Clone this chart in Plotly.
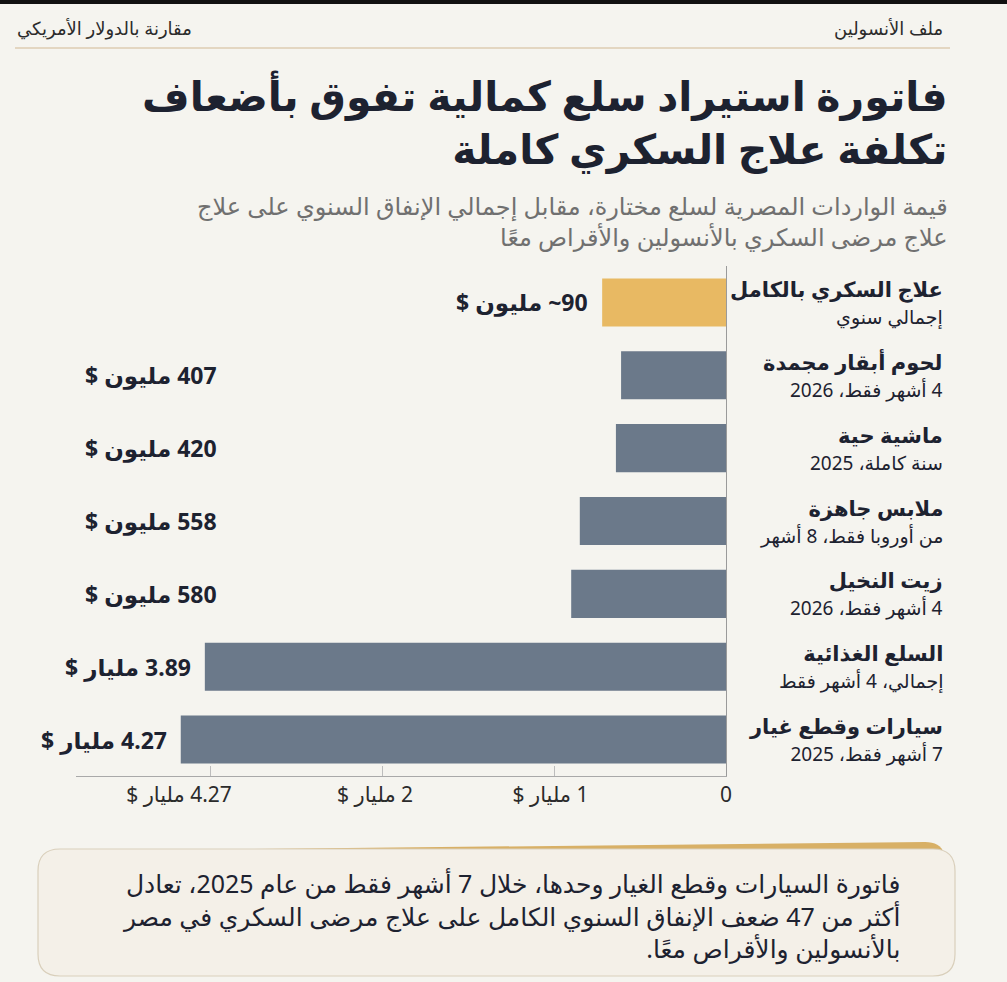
import plotly.graph_objects as go

categories = [
    "علاج السكري بالكامل",
    "لحوم أبقار مجمدة",
    "ماشية حية",
    "ملابس جاهزة",
    "زيت النخيل",
    "السلع الغذائية",
    "سيارات وقطع غيار",
]
notes = [
    "إجمالي سنوي",
    "4 أشهر فقط، 2026",
    "سنة كاملة، 2025",
    "من أوروبا فقط، 8 أشهر",
    "4 أشهر فقط، 2026",
    "إجمالي، 4 أشهر فقط",
    "7 أشهر فقط، 2025",
]
usd_bn = [0.09, 0.407, 0.42, 0.558, 0.58, 3.89, 4.27]
value_labels = [
    "90~ مليون $",
    "407 مليون $",
    "420 مليون $",
    "558 مليون $",
    "580 مليون $",
    "3.89 مليار $",
    "4.27 مليار $",
]
# bar lengths as drawn on the source's (not to scale) axis
bar_len = [0.72, 0.61, 0.64, 0.85, 0.90, 3.03, 3.17]
highlight = [True, False, False, False, False, False, False]

tick_vals = [0, 1.02, 2.04, 3.18]
tick_text = ["0", "1 مليار $", "2 مليار $", "4.27 مليار $"]
tick_marks = [1, 2, 3]

# ---- layout constants (pixels) ----
W_PX, H_PX = 1007, 982
L, R, T, B = 76, 726, 266, 776
FONT = "Noto Sans, DejaVu Sans, sans-serif"
DARK = "#1d2230"
BG = "#f5f4ef"
GOLD = "#e8b963"
SLATE = "#6b798a"


def px(x):
    return (x - L) / (R - L)


def py(y):
    return (B - y) / (B - T)


def rtl(s):
    return "<br>".join("\u202b" + part + "\u202c" for part in s.split("<br>"))


def rrect(x0, y0, x1, y1, r):
    pts = [
        ("M", x0 + r, y0), ("L", x1 - r, y0), ("Q", x1, y0), (None, x1, y0 + r),
        ("L", x1, y1 - r), ("Q", x1, y1), (None, x1 - r, y1),
        ("L", x0 + r, y1), ("Q", x0, y1), (None, x0, y1 - r),
        ("L", x0, y0 + r), ("Q", x0, y0), (None, x0 + r, y0),
    ]
    out = ""
    for cmd, x, y in pts:
        out += (cmd if cmd else " ") + f"{px(x):.5f},{py(y):.5f} "
    return out + "Z"


def pth(cmds):
    out = ""
    for cmd, x, y in cmds:
        out += (cmd if cmd else " ") + f"{px(x):.5f},{py(y):.5f} "
    return out + "Z"


fig = go.Figure()

fig.add_trace(go.Bar(
    y=categories,
    x=bar_len,
    orientation="h",
    marker=dict(color=[GOLD if h else SLATE for h in highlight], line=dict(width=0)),
    customdata=usd_bn,
    hovertemplate="%{y}: %{customdata} مليار $<extra></extra>",
))

annotations = []

# header row
annotations.append(dict(x=px(945), y=py(28), xref="paper", yref="paper",
                        text=rtl("ملف الأنسولين"), xanchor="right", yanchor="middle",
                        showarrow=False, font=dict(size=18, color="#2b2b2b", family=FONT)))
annotations.append(dict(x=px(15), y=py(28), xref="paper", yref="paper",
                        text=rtl("مقارنة بالدولار الأمريكي"), xanchor="left", yanchor="middle",
                        showarrow=False, font=dict(size=18, color="#2b2b2b", family=FONT)))

# title + subtitle
annotations.append(dict(x=px(950), y=py(122), xref="paper", yref="paper",
                        text=rtl("<b>فاتورة استيراد سلع كمالية تفوق بأضعاف</b><br><b>تكلفة علاج السكري كاملة</b>"),
                        xanchor="right", yanchor="middle", align="right", showarrow=False,
                        font=dict(size=41, color=DARK, family=FONT)))
annotations.append(dict(x=px(950), y=py(221), xref="paper", yref="paper",
                        text=rtl("قيمة الواردات المصرية لسلع مختارة، مقابل إجمالي الإنفاق السنوي على علاج<br>علاج مرضى السكري بالأنسولين والأقراص معًا"),
                        xanchor="right", yanchor="middle", align="right", showarrow=False,
                        font=dict(size=24, color="#707070", family=FONT)))

# category labels on the right
for cat, note in zip(categories, notes):
    annotations.append(dict(
        x=px(945), y=cat, xref="paper", yref="y",
        text=rtl(f"<b>{cat}</b><br><span style='font-size:19px'>{note}</span>"),
        xanchor="right", yanchor="middle", align="right", showarrow=False,
        font=dict(size=21, color=DARK, family=FONT),
    ))

# value labels
for cat, lab, ln, h in zip(categories, value_labels, bar_len, highlight):
    annotations.append(dict(
        x=ln if h else max(ln, 2.88), y=cat, xref="x", yref="y",
        text=rtl(f"<b>{lab}</b>"), xanchor="right", yanchor="middle", xshift=-12,
        showarrow=False, font=dict(size=23, color=DARK, family=FONT),
    ))

# callout text
annotations.append(dict(
    x=px(902), y=py(915), xref="paper", yref="paper",
    text=rtl("فاتورة السيارات وقطع الغيار وحدها، خلال 7 أشهر فقط من عام 2025، تعادل<br>"
             "أكثر من 47 ضعف الإنفاق السنوي الكامل على علاج مرضى السكري في مصر<br>"
             "بالأنسولين والأقراص معًا."),
    xanchor="right", yanchor="middle", align="right", showarrow=False,
    font=dict(size=25, color=DARK, family=FONT),
))

shapes = [
    # top dark strip
    dict(type="rect", xref="paper", yref="paper", x0=px(0), x1=px(W_PX), y0=py(0), y1=py(4),
         fillcolor="#111111", line=dict(width=0), layer="below"),
    # header divider
    dict(type="line", xref="paper", yref="paper", x0=px(15), x1=px(950), y0=py(48), y1=py(48),
         line=dict(color="#dccdb2", width=1.5)),
    # callout: thin gold wedge peeking above the card, then the cream card
    dict(type="path", xref="paper", yref="paper",
         path=pth([("M", 70, 851), ("L", 925, 842), ("Q", 940, 842), (None, 944, 853),
                   ("L", 944, 866), ("L", 70, 866)]),
         fillcolor="#d8b066", line=dict(width=0)),
    dict(type="path", xref="paper", yref="paper", path=rrect(38, 849, 955, 976, 22),
         fillcolor="#f4f0e8", line=dict(color="#d9cfbb", width=1.2)),
]

fig.update_layout(
    width=W_PX, height=H_PX,
    margin=dict(l=L, r=W_PX - R, t=T, b=H_PX - B, pad=0),
    paper_bgcolor=BG, plot_bgcolor=BG,
    showlegend=False,
    bargap=0.34,
    font=dict(family=FONT, color=DARK),
    annotations=annotations,
    shapes=shapes,
    xaxis=dict(
        range=[(R - L) / 172, 0],
        showgrid=False, zeroline=False, automargin=False,
        showline=True, linecolor="#a9a9a9", linewidth=1,
        tickmode="array", tickvals=tick_vals, ticktext=[rtl(t) for t in tick_text], ticks="",
        tickfont=dict(size=21, color="#2b2b2b", family=FONT),
        minor=dict(tickmode="array", tickvals=tick_marks, ticks="inside",
                   ticklen=10, tickcolor="#bdbdbd", tickwidth=1, showgrid=False),
    ),
    yaxis=dict(
        categoryorder="array", categoryarray=categories, autorange="reversed",
        side="right", showgrid=False, zeroline=False, automargin=False,
        showline=True, linecolor="#9a9a9a", linewidth=1,
        showticklabels=False, ticks="",
    ),
)

fig.write_html("out.html", config={"displayModeBar": False},
               post_script="document.body.style.margin='0';")
